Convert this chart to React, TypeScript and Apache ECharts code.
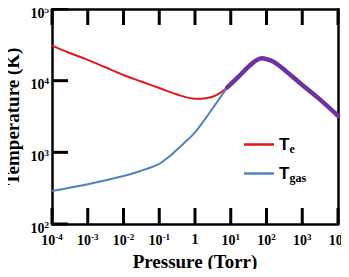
import React, { useEffect, useRef } from "react";
import * as echarts from "echarts";

// Pressure (Torr) and temperature (K) samples for each curve
const pressureTe = [1e-4, 3e-4, 1e-3, 3e-3, 1e-2, 3e-2, 0.1, 0.3, 1, 2, 4, 8];
const tempElectron = [30800, 24500, 19500, 15500, 12000, 9800, 7900, 6450, 5600, 5700, 6300, 8040];

const pressureGas = [1e-4, 1e-3, 1e-2, 3e-2, 0.1, 0.2, 0.3, 0.5, 1, 2, 4, 8];
const tempGas = [289, 359, 468, 550, 692, 890, 1070, 1350, 1900, 3000, 4900, 8040];

// Region where electron and gas temperatures coincide
const pressureEq = [8, 16, 32, 50, 74, 100, 160, 320, 1000, 3200, 10000];
const tempEq = [8040, 11200, 15800, 19000, 20500, 20000, 18300, 14100, 8700, 5400, 3240];

// Decade tick positions on both axes
const xTicks = [1e-4, 1e-3, 1e-2, 1e-1, 1, 1e1, 1e2, 1e3, 1e4];
const yTicks = [1e2, 1e3, 1e4, 1e5];

const SERIF = "'Liberation Serif', 'Times New Roman', serif";
const TICK_LEN = 16;
const TICK_W = 3;

const pow10Label = (v: number) => {
  const e = Math.round(Math.log10(v));
  if (e === 0) return "1";
  return "10{sup|" + e + "}";
};

const pairs = (xs: number[], ys: number[]) => xs.map((x, i) => [x, ys[i]]);

const tickRich = () => ({
  sup: {
    fontSize: 9,
    fontWeight: "bold",
    fontFamily: SERIF,
    color: "#000",
    verticalAlign: "bottom",
    padding: [0, 0, 7, 0],
  },
});

const frameLine = () => ({ show: true, onZero: false, lineStyle: { color: "#000", width: 2.5 } });

const yMin = yTicks[0];
const yMax = yTicks[yTicks.length - 1];
const xMin = xTicks[0];
const xMax = xTicks[xTicks.length - 1];

// Inward tick marks drawn as thin rectangular symbols anchored on the frame
const tickSeries = (name: string, data: number[][], size: number[], offset: number[]) => ({
  name,
  type: "scatter",
  data,
  symbol: "rect",
  symbolSize: size,
  symbolOffset: offset,
  itemStyle: { color: "#000", opacity: 1 },
  clip: false,
  silent: true,
  z: 5,
});

export default function App() {
  const ref = useRef<HTMLDivElement>(null);

  useEffect(() => {
    if (!ref.current) return;
    const chart = echarts.init(ref.current, null, { renderer: "svg" });

    chart.setOption({
      animation: false,
      backgroundColor: "#fff",
      grid: { left: 52, right: 11, top: 9, bottom: 53, containLabel: false, outerBoundsMode: "none" },
      legend: {
        data: ["Te", "Tgas"],
        orient: "vertical",
        left: 239,
        top: 131,
        itemWidth: 30,
        itemHeight: 2.5,
        itemGap: 10,
        icon: "rect",
        formatter: (name: string) => (name === "Te" ? "{b|T}{s|e}" : "{b|T}{s|gas}"),
        textStyle: {
          rich: {
            b: { fontSize: 17, fontWeight: "bold", fontFamily: "'Liberation Sans', Arial, sans-serif", color: "#000" },
            s: { fontSize: 12, fontWeight: "bold", fontFamily: SERIF, color: "#000", padding: [9, 0, 0, 0] },
          },
        },
      },
      xAxis: [
        {
          type: "log",
          logBase: 10,
          min: xMin,
          max: xMax,
          interval: 1,
          name: "Pressure (Torr)",
          nameLocation: "middle",
          nameGap: 28,
          nameMoveOverlap: false,
          nameTextStyle: { fontSize: 19, fontWeight: "bold", fontFamily: SERIF, color: "#000" },
          axisLine: frameLine(),
          axisTick: { show: false },
          minorTick: { show: false },
          splitLine: { show: false },
          axisLabel: {
            margin: 8,
            formatter: pow10Label,
            fontSize: 14,
            fontWeight: "bold",
            fontFamily: SERIF,
            color: "#000",
            rich: tickRich(),
          },
        },
        {
          type: "log",
          logBase: 10,
          position: "top",
          min: xMin,
          max: xMax,
          interval: 1,
          axisLine: frameLine(),
          axisTick: { show: false },
          splitLine: { show: false },
          axisLabel: { show: false },
        },
      ],
      yAxis: [
        {
          type: "log",
          logBase: 10,
          min: yMin,
          max: yMax,
          interval: 1,
          name: "Temperature (K)",
          nameLocation: "middle",
          nameGap: 30,
          nameMoveOverlap: false,
          nameRotate: 90,
          nameTextStyle: { fontSize: 19, fontWeight: "bold", fontFamily: SERIF, color: "#000" },
          axisLine: frameLine(),
          axisTick: { show: false },
          minorTick: { show: false },
          splitLine: { show: false },
          axisLabel: {
            margin: 3,
            padding: [8, 0, 0, 0],
            formatter: pow10Label,
            fontSize: 14,
            fontWeight: "bold",
            fontFamily: SERIF,
            color: "#000",
            rich: tickRich(),
          },
        },
        {
          type: "log",
          logBase: 10,
          position: "right",
          min: yMin,
          max: yMax,
          interval: 1,
          axisLine: frameLine(),
          axisTick: { show: false },
          splitLine: { show: false },
          axisLabel: { show: false },
        },
      ],
      series: [
        {
          name: "Te",
          type: "line",
          data: pairs(pressureTe, tempElectron),
          smooth: 0.35,
          showSymbol: false,
          color: "#E3161C",
          lineStyle: { width: 2, color: "#E3161C" },
        },
        {
          name: "Tgas",
          type: "line",
          data: pairs(pressureGas, tempGas),
          smooth: 0.3,
          showSymbol: false,
          color: "#4F82BE",
          lineStyle: { width: 2, color: "#4F82BE" },
        },
        {
          name: "Te = Tgas",
          type: "line",
          data: pairs(pressureEq, tempEq),
          smooth: 0.35,
          showSymbol: false,
          color: "#7030A0",
          lineStyle: { width: 4.5, color: "#7030A0", cap: "round" },
        },
        tickSeries("bottom ticks", xTicks.map((v) => [v, yMin]), [TICK_W, TICK_LEN], [0, -TICK_LEN / 2]),
        tickSeries("top ticks", xTicks.map((v) => [v, yMax]), [TICK_W, TICK_LEN], [0, TICK_LEN / 2]),
        tickSeries("left ticks", yTicks.map((v) => [xMin, v]), [TICK_LEN, TICK_W], [TICK_LEN / 2, 0]),
      ],
    });

    return () => chart.dispose();
  }, []);

  return <div ref={ref} style={{ width: 349, height: 277, margin: -8 }} />;
}
